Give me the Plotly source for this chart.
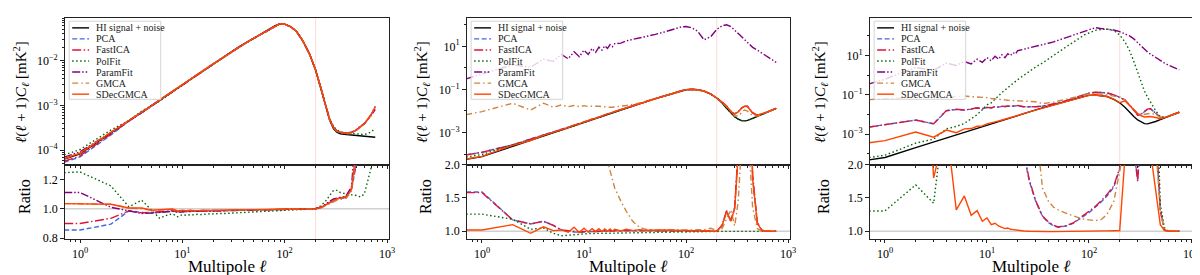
import plotly.graph_objects as go

# ---------------- data ----------------
ell = [0.7, 1, 2, 3, 4, 5, 6, 7, 8, 9, 10,
       11, 12, 13, 14, 15, 16, 17, 18, 19, 20,
       23, 26, 30, 35, 40, 45, 50, 60, 70, 80, 90,
       100, 115, 130, 150, 175, 200,
       225, 250, 275, 300, 325, 350, 375, 400,
       450, 500, 550, 600, 700, 767]

ell_cut = 200
series_names = ["HI signal + noise", "PCA", "FastICA", "PolFit", "ParamFit", "GMCA", "SDecGMCA"]
x_tick_vals = [1, 10, 100, 1000]
x_tick_text = ["10<sup>0</sup>", "10<sup>1</sup>", "10<sup>2</sup>", "10<sup>3</sup>"]
p1_y_tick_vals = [1e-4, 1e-3, 1e-2]
p1_y_tick_text = ["10<sup>−4</sup>", "10<sup>−3</sup>", "10<sup>−2</sup>"]
p23_y_tick_vals = [1e-3, 1e-1, 10]
p23_y_tick_text = ["10<sup>−3</sup>", "10<sup>−1</sup>", "10<sup>1</sup>"]
p1_ratio_ticks = [0.8, 1.0, 1.2]
p23_ratio_ticks = [1.0, 1.5, 2.0]

# ---- panel 1 ----
p1_hi = [6.31e-5, 8.32e-5, 2.45e-4, 4.57e-4, 7.08e-4, 1.00e-3, 1.35e-3, 1.70e-3, 2.09e-3, 2.51e-3, 2.95e-3,
         3.39e-3, 3.89e-3, 4.47e-3, 5.01e-3, 5.50e-3, 6.17e-3, 6.76e-3, 7.41e-3, 7.94e-3, 8.71e-3,
         1.07e-2, 1.29e-2, 1.62e-2, 2.00e-2, 2.40e-2, 2.82e-2, 3.24e-2, 4.07e-2, 5.01e-2, 6.03e-2, 6.76e-2,
         6.61e-2, 5.75e-2, 4.57e-2, 2.82e-2, 1.41e-2, 6.31e-3,
         2.51e-3, 1.00e-3, 4.68e-4, 3.02e-4, 2.51e-4, 2.34e-4, 2.26e-4, 2.24e-4,
         2.19e-4, 2.14e-4, 2.09e-4, 2.04e-4, 2.00e-4, 1.95e-4]
p1_pca_ratio = [0.855, 0.855, 0.895, 0.985, 0.975, 0.972, 0.975, 0.978, 0.985, 0.978, 0.980,
                0.982, 0.980, 0.985, 0.982, 0.984, 0.983, 0.985, 0.984, 0.986, 0.985,
                0.986, 0.987, 0.987, 0.988, 0.989, 0.990, 0.990, 0.991, 0.992, 0.993, 0.994,
                0.995, 0.996, 0.997, 0.998, 0.999, 1.000,
                1.008, 1.025, 1.045, 1.060, 1.068, 1.070, 1.072, 1.080,
                1.13, 1.30, 1.60, 1.90, 3.10, 4.80]
p1_fastica_ratio = [0.900, 0.900, 0.935, 0.985, 0.972, 0.975, 0.978, 0.982, 0.988, 0.980, 0.983,
                    0.984, 0.982, 0.986, 0.984, 0.985, 0.984, 0.986, 0.985, 0.987, 0.986,
                    0.987, 0.988, 0.988, 0.989, 0.990, 0.990, 0.991, 0.992, 0.993, 0.994, 0.995,
                    0.996, 0.997, 0.998, 0.998, 0.999, 1.000,
                    1.008, 1.026, 1.046, 1.062, 1.070, 1.073, 1.076, 1.085,
                    1.14, 1.32, 1.62, 1.92, 3.15, 4.90]
p1_polfit_ratio = [1.245, 1.250, 1.155, 1.013, 1.058, 0.990, 0.935, 0.955, 0.965, 0.945, 0.960,
                   0.955, 0.960, 0.958, 0.962, 0.960, 0.963, 0.962, 0.965, 0.964, 0.966,
                   0.967, 0.968, 0.970, 0.972, 0.974, 0.976, 0.977, 0.980, 0.983, 0.986, 0.988,
                   0.991, 0.993, 0.995, 0.997, 0.999, 1.000,
                   1.020, 1.050, 1.090, 1.125, 1.125, 1.110, 1.105, 1.100,
                   1.095, 1.090, 1.080, 1.100, 1.280, 1.600]
p1_paramfit_ratio = [1.110, 1.110, 1.010, 0.985, 0.968, 0.970, 0.975, 0.978, 0.982, 0.976, 0.980,
                     0.981, 0.980, 0.984, 0.982, 0.984, 0.983, 0.985, 0.984, 0.986, 0.985,
                     0.986, 0.987, 0.988, 0.988, 0.989, 0.990, 0.991, 0.991, 0.992, 0.993, 0.994,
                     0.995, 0.996, 0.997, 0.998, 0.999, 1.000,
                     1.010, 1.028, 1.050, 1.066, 1.075, 1.078, 1.080, 1.090,
                     1.15, 1.35, 1.65, 1.95, 3.00, 4.20]
p1_gmca_ratio = [1.035, 1.035, 1.030, 1.005, 1.000, 0.990, 0.992, 0.990, 0.995, 0.985, 0.988,
                 0.986, 0.989, 0.986, 0.988, 0.987, 0.988, 0.988, 0.989, 0.988, 0.989,
                 0.989, 0.990, 0.990, 0.990, 0.991, 0.991, 0.992, 0.993, 0.994, 0.995, 0.996,
                 0.996, 0.997, 0.998, 0.999, 0.999, 1.000,
                 1.005, 1.020, 1.038, 1.050, 1.058, 1.062, 1.065, 1.072,
                 1.12, 1.28, 1.58, 1.88, 3.05, 4.70]
p1_sdecgmca_ratio = [1.035, 1.035, 1.030, 1.005, 1.005, 0.990, 0.995, 0.995, 0.998, 0.985, 0.990,
                     0.985, 0.990, 0.987, 0.990, 0.988, 0.990, 0.988, 0.990, 0.989, 0.990,
                     0.990, 0.990, 0.991, 0.991, 0.992, 0.992, 0.993, 0.994, 0.995, 0.996, 0.996,
                     0.997, 0.998, 0.998, 0.999, 1.000, 1.000,
                     1.008, 1.025, 1.045, 1.060, 1.068, 1.072, 1.075, 1.082,
                     1.13, 1.31, 1.61, 1.91, 3.12, 4.85]

# ---- panel 2 ----
p2_hi = [5.75e-5, 7.59e-5, 2.29e-4, 4.37e-4, 6.92e-4, 1.00e-3, 1.35e-3, 1.70e-3, 2.09e-3, 2.57e-3, 3.02e-3,
         3.55e-3, 4.07e-3, 4.57e-3, 5.13e-3, 5.75e-3, 6.46e-3, 7.08e-3, 7.76e-3, 8.51e-3, 9.12e-3,
         1.15e-2, 1.38e-2, 1.74e-2, 2.19e-2, 2.69e-2, 3.16e-2, 3.72e-2, 4.79e-2, 6.03e-2, 7.24e-2, 8.51e-2,
         9.55e-2, 1.00e-1, 9.55e-2, 8.32e-2, 6.03e-2, 3.98e-2,
         2.40e-2, 1.32e-2, 7.94e-3, 5.37e-3, 4.17e-3, 3.55e-3, 3.47e-3, 3.63e-3,
         4.47e-3, 5.62e-3, 6.92e-3, 8.32e-3, 1.12e-2, 1.32e-2]
p2_pca_ratio = [1.59, 1.59, 1.17, 1.11, 1.15, 1.09, 1.02, 1.00, 0.99, 0.985, 0.99,
                0.99, 1.00, 0.995, 1.00, 1.00, 1.005, 1.00, 1.005, 1.005, 1.005,
                1.008, 1.008, 1.01, 1.01, 1.01, 1.01, 1.01, 1.01, 1.01, 1.01, 1.01,
                1.01, 1.01, 1.008, 1.006, 1.004, 1.00,
                1.08, 1.30, 1.15, 1.35, 2.20, 3.80, 4.70, 4.50,
                1.80, 1.12, 1.02, 1.00, 1.00, 1.00]
p2_fastica_ratio = [1.58, 1.58, 1.17, 1.11, 1.15, 1.09, 1.02, 1.005, 0.995, 0.99, 0.995,
                    0.995, 1.005, 1.00, 1.005, 1.00, 1.008, 1.003, 1.008, 1.006, 1.008,
                    1.01, 1.01, 1.012, 1.012, 1.012, 1.012, 1.012, 1.012, 1.012, 1.012, 1.012,
                    1.012, 1.01, 1.008, 1.006, 1.004, 1.00,
                    1.09, 1.31, 1.16, 1.36, 2.25, 3.85, 4.75, 4.55,
                    1.85, 1.13, 1.02, 1.00, 1.00, 1.00]
p2_polfit_ratio = [1.257, 1.257, 1.18, 1.03, 1.05, 0.97, 0.933, 0.943, 0.955, 0.958, 0.962,
                   0.965, 0.967, 0.968, 0.970, 0.972, 0.973, 0.974, 0.975, 0.976, 0.977,
                   0.978, 0.980, 0.981, 0.982, 0.983, 0.984, 0.985, 0.987, 0.988, 0.990, 0.991,
                   0.992, 0.994, 0.995, 0.996, 0.998, 1.000,
                   0.999, 0.998, 0.998, 0.998, 0.998, 0.998, 0.998, 0.998,
                   0.998, 0.998, 0.998, 0.998, 0.998, 0.998]
p2_paramfit_spec = [0.309, 0.50, 1.38, 1.07, 2.51, 2.0, 4.17, 2.63, 5.62, 3.31, 6.61,
                    4.17, 7.94, 5.25, 9.12, 6.61, 10.5, 7.94, 12.0, 9.55, 13.2,
                    14.1, 17.8, 20.9, 24.0, 28.2, 31.6, 35.5, 44.7, 55.0, 66.1, 79.4,
                    83.2, 70.8, 50.1, 20.0, 28.2, 60.3,
                    89.1, 100.0, 83.2, 56.2, 38.0, 28.2, 21.4, 15.1,
                    8.91, 6.61, 5.01, 3.98, 2.40, 1.78]
p2_gmca_ratio = [117, 123, 100, 25, 33, 15, 14, 9.3, 8.5, 6.2, 5.8,
                 4.5, 4.1, 3.5, 3.2, 2.8, 2.4, 2.05, 1.9, 1.75, 1.65,
                 1.45, 1.30, 1.15, 1.06, 1.03, 1.025, 1.02, 1.025, 1.02, 1.02, 1.02,
                 1.02, 1.02, 1.02, 1.025, 1.045, 1.01,
                 1.04, 1.20, 1.32, 1.08, 1.45, 2.30, 3.20, 2.70,
                 1.35, 1.04, 1.00, 1.00, 1.00, 1.00]
p2_sdecgmca_ratio = [1.02, 1.02, 1.10, 0.97, 1.067, 1.01, 1.02, 0.985, 1.06, 0.98, 1.045,
                     0.99, 1.04, 0.995, 1.04, 0.995, 1.035, 1.00, 1.035, 1.00, 1.03,
                     1.005, 1.03, 1.01, 1.025, 1.012, 1.02, 1.015, 1.02, 1.018, 1.02, 1.015,
                     1.018, 1.015, 1.012, 1.01, 1.008, 1.00,
                     1.08, 1.29, 1.15, 1.34, 2.15, 3.75, 4.65, 4.45,
                     1.78, 1.12, 1.02, 1.00, 1.00, 1.00]

# ---- panel 3 ----
p3_hi = [5.01e-5, 6.61e-5, 2.09e-4, 3.98e-4, 6.31e-4, 9.12e-4, 1.23e-3, 1.58e-3, 1.95e-3, 2.34e-3, 2.82e-3,
         3.31e-3, 3.80e-3, 4.37e-3, 4.90e-3, 5.50e-3, 6.17e-3, 6.76e-3, 7.41e-3, 8.13e-3, 8.91e-3,
         1.15e-2, 1.38e-2, 1.74e-2, 2.19e-2, 2.69e-2, 3.16e-2, 3.72e-2, 4.79e-2, 6.03e-2, 7.24e-2, 8.51e-2,
         9.55e-2, 1.00e-1, 9.55e-2, 8.32e-2, 6.03e-2, 3.98e-2,
         2.40e-2, 1.32e-2, 7.94e-3, 5.37e-3, 4.17e-3, 3.47e-3, 3.40e-3, 3.63e-3,
         4.47e-3, 5.62e-3, 6.92e-3, 8.32e-3, 1.12e-2, 1.32e-2]
p3_pca_ratio = [46.8, 45.7, 25.1, 8.5, 25.1, 20.0, 13.8, 12.0, 11.2, 8.5, 8.1,
                6.6, 6.6, 5.5, 5.4, 4.6, 4.4, 3.9, 3.7, 3.3, 3.2,
                2.15, 1.75, 1.45, 1.22, 1.13, 1.08, 1.06, 1.08, 1.12, 1.18, 1.23,
                1.28, 1.36, 1.43, 1.53, 1.66, 1.93,
                2.3, 2.3, 2.2, 1.77, 2.5, 4.2, 5.5, 5.5,
                2.5, 1.3, 1.02, 1.00, 1.00, 1.00]
p3_fastica_ratio = [46.0, 45.0, 25.5, 8.6, 25.5, 20.5, 14.0, 12.2, 11.4, 8.6, 8.2,
                    6.7, 6.7, 5.6, 5.5, 4.7, 4.5, 4.0, 3.75, 3.35, 3.25,
                    2.18, 1.77, 1.46, 1.23, 1.14, 1.09, 1.065, 1.085, 1.125, 1.19, 1.24,
                    1.29, 1.37, 1.45, 1.55, 1.68, 1.95,
                    2.35, 2.35, 2.25, 1.75, 2.55, 4.3, 5.6, 5.6,
                    2.55, 1.32, 1.02, 1.00, 1.00, 1.00]
p3_polfit_ratio = [1.305, 1.305, 1.695, 1.42, 3.0, 2.75, 2.9, 4.0, 5.1, 7.6, 11.2,
                   12.0, 16.6, 20.4, 26.9, 32.4, 38.9, 44.7, 51.3, 58.9, 67.6,
                   87.1, 115, 151, 191, 245, 302, 380, 589, 794, 1050, 1320,
                   1480, 1905, 2240, 2690, 3160, 2820,
                   2090, 1350, 631, 263, 107, 44.7, 22.9, 12.3,
                   3.55, 1.4, 1.05, 1.00, 1.00, 1.00]
p3_paramfit_spec = [0.363, 0.631, 2.51, 1.78, 4.17, 3.16, 5.01, 3.80, 6.61, 4.57, 7.94,
                    5.50, 9.33, 6.61, 11.0, 7.94, 12.6, 10.0, 14.1, 12.0, 17.8,
                    20.9, 25.1, 30.2, 36.3, 42.7, 50.1, 60.3, 79.4, 105, 132, 166,
                    200, 263, 240, 219, 200, 166,
                    132, 100, 70.8, 44.7, 30.2, 20.9, 15.1, 12.0,
                    7.94, 5.62, 4.17, 3.31, 2.29, 1.91]
p3_gmca_ratio = [1150, 955, 380, 178, 126, 91, 72, 52, 41, 32, 26,
                 20, 17, 14, 12, 10.2, 8.7, 7.8, 6.8, 6.0, 5.4,
                 4.0, 3.2, 2.6, 1.65, 1.45, 1.36, 1.32, 1.27, 1.23, 1.20, 1.18,
                 1.17, 1.16, 1.17, 1.25, 1.45, 2.0,
                 2.3, 2.3, 2.2, 2.1, 2.3, 2.9, 3.2, 3.2,
                 2.3, 1.3, 1.02, 1.00, 1.00, 1.00]
p3_sdecgmca_ratio = [7.4, 7.2, 6.2, 1.8, 2.6, 1.32, 1.53, 1.24, 1.31, 1.15, 1.20,
                     1.10, 1.12, 1.08, 1.06, 1.04, 1.05, 1.03, 1.025, 1.02, 1.01,
                     1.005, 1.00, 0.995, 0.995, 0.995, 0.995, 0.995, 0.997, 0.998, 0.999, 1.00,
                     1.00, 1.002, 1.004, 1.006, 1.008, 1.01,
                     2.1, 2.2, 2.2, 2.1, 2.1, 2.2, 2.3, 2.2,
                     1.6, 1.1, 1.01, 1.00, 1.00, 1.00]

# ---------------- assemble ----------------
panels = [
    dict(hi=p1_hi,
         ratio={"PCA": p1_pca_ratio, "FastICA": p1_fastica_ratio, "PolFit": p1_polfit_ratio,
                "ParamFit": p1_paramfit_ratio, "GMCA": p1_gmca_ratio, "SDecGMCA": p1_sdecgmca_ratio},
         spec={}, yrange=[-4.32, -1.04], rrange=[0.795, 1.30],
         ytv=p1_y_tick_vals, ytt=p1_y_tick_text, rtv=p1_ratio_ticks),
    dict(hi=p2_hi,
         ratio={"PCA": p2_pca_ratio, "FastICA": p2_fastica_ratio, "PolFit": p2_polfit_ratio,
                "GMCA": p2_gmca_ratio, "SDecGMCA": p2_sdecgmca_ratio},
         spec={"ParamFit": p2_paramfit_spec}, yrange=[-4.49, 2.32], rrange=[0.886, 2.0],
         ytv=p23_y_tick_vals, ytt=p23_y_tick_text, rtv=p23_ratio_ticks),
    dict(hi=p3_hi,
         ratio={"PCA": p3_pca_ratio, "FastICA": p3_fastica_ratio, "PolFit": p3_polfit_ratio,
                "GMCA": p3_gmca_ratio, "SDecGMCA": p3_sdecgmca_ratio},
         spec={"ParamFit": p3_paramfit_spec}, yrange=[-4.54, 2.92], rrange=[0.886, 2.0],
         ytv=p23_y_tick_vals, ytt=p23_y_tick_text, rtv=p23_ratio_ticks),
]

styles = {
    "HI signal + noise": dict(color="black", dash="solid"),
    "PCA": dict(color="royalblue", dash="5px,2.5px"),
    "FastICA": dict(color="crimson", dash="9px,2.5px,1.5px,2.5px"),
    "PolFit": dict(color="darkgreen", dash="1.5px,2.5px"),
    "ParamFit": dict(color="purple", dash="8px,2px,1.5px,2px,1.5px,2px"),
    "GMCA": dict(color="peru", dash="6px,3px,1.5px,3px"),
    "SDecGMCA": dict(color="orangered", dash="solid"),
}

FONT = "Liberation Serif, DejaVu Serif, serif"
W, H = 1200, 275
panel_px = [(57, 383), (461, 786), (866, 1191)]
top_px = (3, 157)
bot_px = (157, 235)
ylab_x = [13, 416, 816]
LW = 1.4


def ydom(a, b):
    return [1 - b / H, 1 - a / H]


def sx(k):
    return "" if k == 1 else str(k)


minor_x = [k * 10 ** n for n in range(-1, 4) for k in range(2, 10)]
minor_y1 = [k * 10 ** n for n in range(-5, 0) for k in range(2, 10)]
minor_y23 = [10.0 ** n for n in (-4, -2, 0, 2)]

fig = go.Figure()
layout = {}
shapes_below = []
shapes_above = []
annotations = []

for i, P in enumerate(panels):
    n = i + 1
    kt, kb = 2 * n - 1, 2 * n
    hi = P["hi"]
    assert len(hi) == len(ell), (n, "hi", len(hi))
    for name in series_names:
        if name == "HI signal + noise":
            spec, ratio = hi, [1.0] * len(hi)
        elif name in P["spec"]:
            spec = P["spec"][name]
            ratio = [s / h for s, h in zip(spec, hi)]
        else:
            ratio = P["ratio"][name]
            spec = [h * r for h, r in zip(hi, ratio)]
        assert len(spec) == len(ell), (n, name, len(spec))
        st = styles[name]
        line = dict(color=st["color"], dash=st["dash"], width=LW)
        fig.add_trace(go.Scatter(x=ell, y=spec, mode="lines", name=name, line=line,
                                 xaxis="x" + sx(kt), yaxis="y" + sx(kt),
                                 showlegend=False, hoverinfo="skip"))
        if name != "HI signal + noise":
            fig.add_trace(go.Scatter(x=ell, y=ratio, mode="lines", name=name, line=line,
                                     xaxis="x" + sx(kb), yaxis="y" + sx(kb),
                                     showlegend=False, hoverinfo="skip"))

    x0, x1 = panel_px[i]
    xd = [x0 / W, x1 / W]
    common_x = dict(type="log", range=[-0.15, 3.02], domain=xd, showline=True, linecolor="#222",
                    linewidth=1, mirror=True, ticks="outside", ticklen=3.5, tickcolor="#222",
                    tickmode="array", tickvals=x_tick_vals, ticktext=x_tick_text,
                    showgrid=False, zeroline=False,
                    tickfont=dict(family=FONT, size=12, color="black"),
                    minor=dict(ticks="outside", ticklen=2, tickcolor="#222",
                               tickmode="array", tickvals=minor_x, showgrid=False))
    layout["xaxis" + sx(kt)] = dict(common_x, anchor="y" + sx(kt), showticklabels=False)
    layout["xaxis" + sx(kb)] = dict(common_x, anchor="y" + sx(kb), showticklabels=True)
    layout["yaxis" + sx(kt)] = dict(type="log", range=P["yrange"], domain=ydom(*top_px),
                                    anchor="x" + sx(kt), showline=True, linecolor="#222",
                                    linewidth=1, mirror=True, ticks="outside", ticklen=3.5,
                                    tickcolor="#222", tickmode="array", tickvals=P["ytv"],
                                    ticktext=P["ytt"], showgrid=False, zeroline=False,
                                    tickfont=dict(family=FONT, size=12, color="black"),
                                    minor=dict(ticks="outside", ticklen=2, tickcolor="#222",
                                               tickmode="array",
                                               tickvals=minor_y1 if n == 1 else minor_y23,
                                               showgrid=False))
    layout["yaxis" + sx(kb)] = dict(range=P["rrange"], domain=ydom(*bot_px),
                                    anchor="x" + sx(kb), showline=True, linecolor="#222",
                                    linewidth=1, mirror=True, ticks="outside", ticklen=3.5,
                                    tickcolor="#222", tickmode="array", tickvals=P["rtv"],
                                    ticktext=[f"{v:.1f}" for v in P["rtv"]],
                                    showgrid=False, zeroline=False,
                                    tickfont=dict(family=FONT, size=12, color="black"))
    # ratio = 1 reference line
    shapes_below.append(dict(type="line", xref="x" + sx(kb) + " domain", x0=0, x1=1,
                             yref="y" + sx(kb), y0=1, y1=1, layer="below",
                             line=dict(color="#d0d0d0", width=1.5)))
    # ell cut line across both subplots
    for k in (kt, kb):
        shapes_below.append(dict(type="line", xref="x" + sx(k), x0=ell_cut, x1=ell_cut,
                                 yref="y" + sx(k) + " domain", y0=0, y1=1, layer="below",
                                 line=dict(color="rgba(250,128,114,0.35)", width=0.8)))
    # axis titles
    annotations.append(dict(text="<i>ℓ</i>(<i>ℓ</i> + 1)<i>C<sub>ℓ</sub></i> [mK<sup>2</sup>]",
                            x=ylab_x[i] / W, y=1 - 81 / H, xref="paper", yref="paper",
                            textangle=-90, showarrow=False, xanchor="center", yanchor="middle",
                            font=dict(family=FONT, size=15, color="black")))
    annotations.append(dict(text="Ratio", x=(ylab_x[i] + 3) / W, y=1 - 190 / H,
                            xref="paper", yref="paper", textangle=-90, showarrow=False,
                            xanchor="center", yanchor="middle",
                            font=dict(family=FONT, size=16, color="black")))
    annotations.append(dict(text="Multipole <i>ℓ</i>", x=(x0 + x1) / 2 / W, y=1 - 264 / H,
                            xref="paper", yref="paper", showarrow=False, xanchor="center",
                            yanchor="middle", font=dict(family=FONT, size=17, color="black")))

    # legend (drawn box + samples + labels, sized like the original)
    bx0, bx1, by0, by1 = x0 + 4.5, x0 + 96.5, 6.5, 88.5
    shapes_above.append(dict(type="rect", xref="paper", yref="paper",
                             x0=bx0 / W, x1=bx1 / W, y0=1 - by1 / H, y1=1 - by0 / H,
                             fillcolor="rgba(255,255,255,0.8)", layer="above",
                             line=dict(color="#d4d4d4", width=1)))
    for j, name in enumerate(series_names):
        yy = 1 - (13.5 + 11.6 * j) / H
        st = styles[name]
        shapes_above.append(dict(type="line", xref="paper", yref="paper",
                                 x0=(x0 + 7.5) / W, x1=(x0 + 24.5) / W, y0=yy, y1=yy,
                                 layer="above",
                                 line=dict(color=st["color"], dash=st["dash"], width=LW)))
        annotations.append(dict(text=name, x=(x0 + 29.5) / W, y=yy, xref="paper", yref="paper",
                                showarrow=False, xanchor="left", yanchor="middle",
                                font=dict(family=FONT, size=10, color="#222")))

fig.update_layout(**layout)
fig.update_layout(width=W, height=H, margin=dict(l=0, r=0, t=0, b=0),
                  paper_bgcolor="white", plot_bgcolor="white", showlegend=False,
                  font=dict(family=FONT, color="black"),
                  shapes=shapes_below + shapes_above, annotations=annotations)
fig.write_html("out.html")
